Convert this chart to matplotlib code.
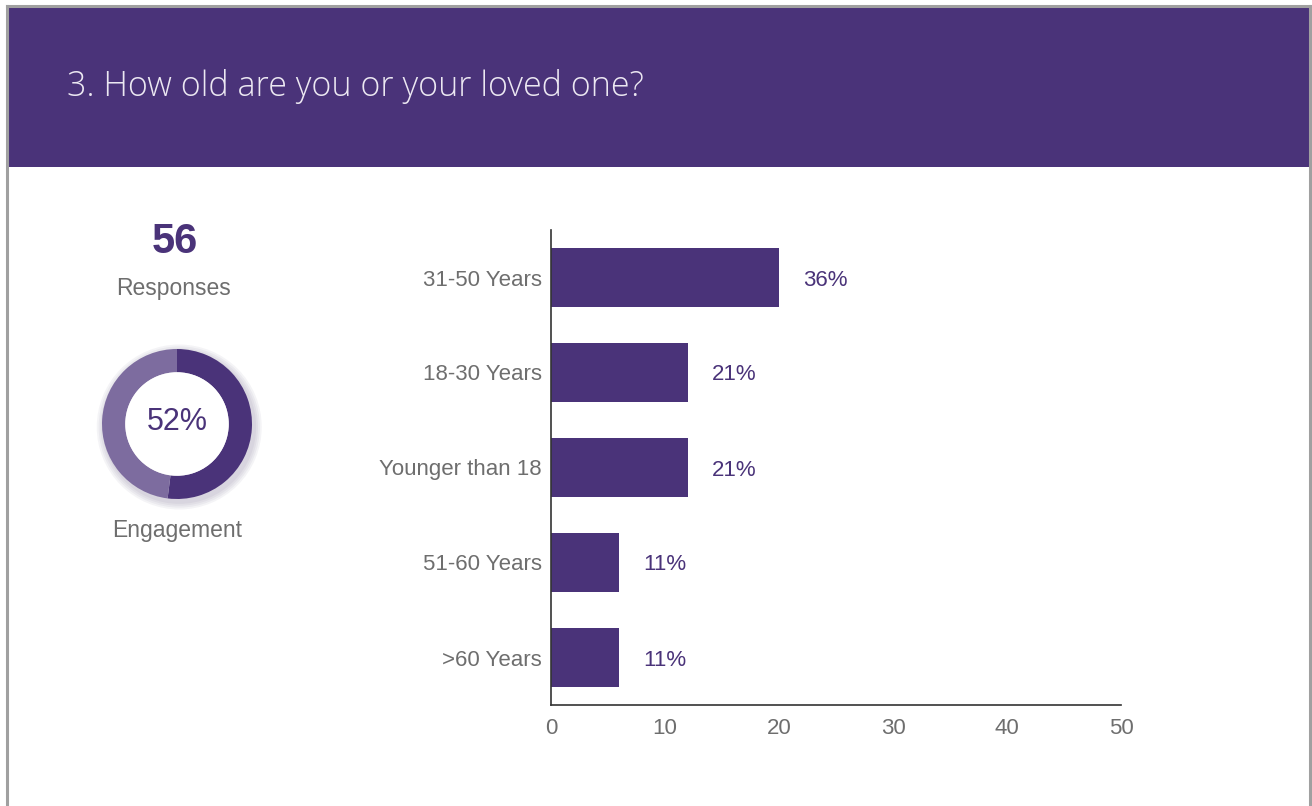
import matplotlib
matplotlib.use("Agg")
import matplotlib.pyplot as plt
from matplotlib.patches import Rectangle, Circle

# survey data
question = "3. How old are you or your loved one?"
age_groups = ["31-50 Years", "18-30 Years", "Younger than 18", "51-60 Years", ">60 Years"]
counts = [20, 12, 12, 6, 6]
shares = ["36%", "21%", "21%", "11%", "11%"]
responses = 56
engagement = 52
x_ticks = [0, 10, 20, 30, 40, 50]

PURPLE = "#4a3379"
LIGHT_PURPLE = "#7d6c9f"
GREY = "#6e6e6e"
FONT = "Liberation Sans"

W, H = 1312, 806
fig = plt.figure(figsize=(W / 100, H / 100), dpi=100)
fig.patch.set_facecolor("white")

def fx(px):
    return px / W

def fy(py):
    return 1 - py / H

# frame and header band
fig.patches.append(Rectangle((fx(7), fy(167)), fx(1302), 161 / H, transform=fig.transFigure,
                             facecolor=PURPLE, edgecolor="none", zorder=0))
for x0, y0, x1, y1 in [(6.5, 5.5, 1309.5, 5.5), (6.5, 5.5, 6.5, 806), (1309.5, 5.5, 1309.5, 806)]:
    fig.add_artist(plt.Line2D([fx(x0), fx(x1)], [fy(y0), fy(y1)], transform=fig.transFigure,
                              color="#a0a0a0", lw=2.2))
fig.text(fx(67), fy(86), question, color="#ece8f2", fontsize=24.5, family="Open Sans",
         fontweight="light", va="center", ha="left")

# response count and engagement ring
fig.text(fx(175), fy(242), str(responses), color=PURPLE, fontsize=30, fontweight="bold",
         family=FONT, ha="center", va="center")
fig.text(fx(174), fy(289), "Responses", color=GREY, fontsize=16.5, family=FONT,
         ha="center", va="center")
fig.text(fx(177), fy(530), "Engagement", color=GREY, fontsize=16.5, family=FONT,
         ha="center", va="center")

ring = fig.add_axes([fx(177 - 90), fy(424 + 90), 180 / W, 180 / H])
ring.axis("off")
# soft shadow under the ring
for i in range(4):
    ring.add_patch(Circle((0.03, -0.04), 1.0 + 0.025 * (4 - i), color="#3a2a60", alpha=0.05, lw=0))
ring.pie([engagement, 100 - engagement], colors=[PURPLE, LIGHT_PURPLE], startangle=90,
         counterclock=False, radius=1.0, wedgeprops=dict(width=0.31, edgecolor="none"))
ring.add_patch(Circle((0, 0), 0.69, color="white", lw=0, zorder=5))
ring.set_xlim(-1.2, 1.2)
ring.set_ylim(-1.2, 1.2)
ring.set_aspect("equal")
ring.text(0, 0.03, f"{engagement}%", color=PURPLE, fontsize=22, family=FONT,
          ha="center", va="center", zorder=6)

# horizontal bar chart
ax = fig.add_axes([fx(551), fy(705), 570 / W, 475 / H])
ypos = list(range(len(age_groups)))[::-1]
ax.barh(ypos, counts, height=0.63, color=PURPLE)
for y, c, s in zip(ypos, counts, shares):
    ax.text(c + 2.1, y, s, color=PURPLE, fontsize=16, family=FONT,
            ha="left", va="center_baseline")
ax.set_xlim(0, 50)
ax.set_ylim(-0.5, 4.5)
ax.set_yticks(ypos)
ax.set_yticklabels(age_groups)
ax.set_xticks(x_ticks)
for sp in ["top", "right"]:
    ax.spines[sp].set_visible(False)
for sp in ["left", "bottom"]:
    ax.spines[sp].set_color("#333333")
    ax.spines[sp].set_linewidth(1.2)
ax.tick_params(axis="y", length=0, pad=6.5, labelsize=16, labelcolor=GREY)
ax.tick_params(axis="x", length=0, pad=9, labelsize=16, labelcolor=GREY)
for lbl in ax.get_xticklabels() + ax.get_yticklabels():
    lbl.set_family(FONT)

fig.savefig("out.png", dpi=100)
